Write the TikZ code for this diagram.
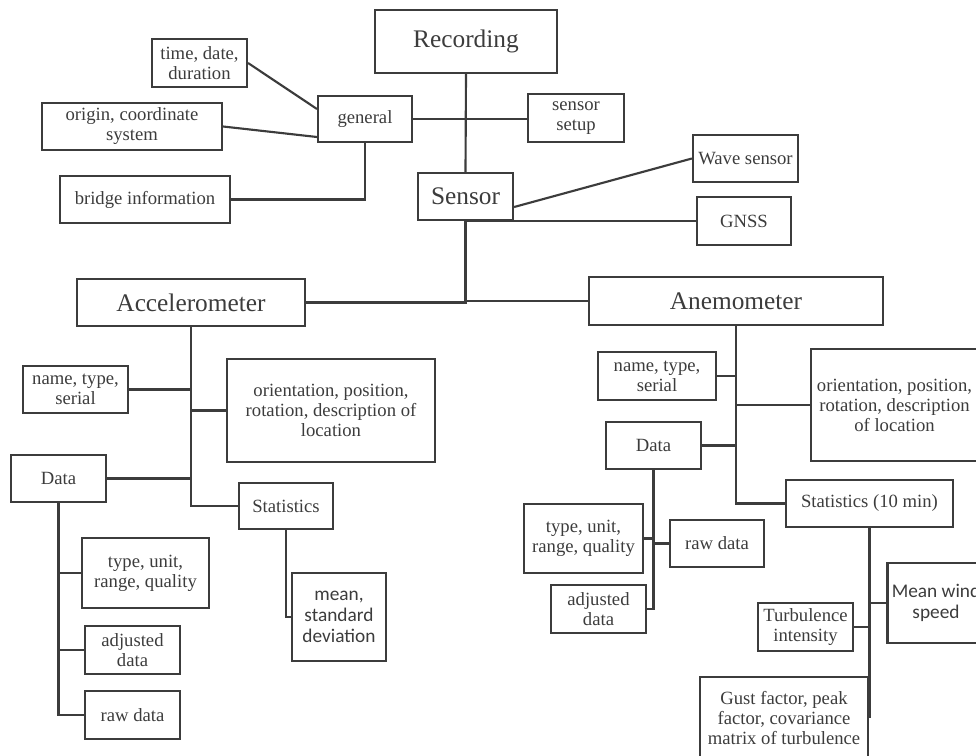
\documentclass[tikz,border=0pt]{standalone}
\usepackage{fontspec}
\setmainfont{Liberation Serif}
\newfontfamily\sansfont{Carlito}

\definecolor{inkgray}{RGB}{60,60,60}

\tikzset{every picture/.style={line width=1.6pt}}
\tikzset{
  bx/.style 2 args={draw=inkgray, line width=1.6pt, text=inkgray, inner sep=0pt, align=center,
    minimum width=#1*0.75pt, minimum height=#2*0.75pt,
    font=\fontsize{14}{15}\selectfont},
  bigbx/.style 2 args={bx={#1}{#2}, font=\fontsize{19}{21}\selectfont},
  sansbx/.style 2 args={bx={#1}{#2}, font=\sansfont\fontsize{14.5}{16}\selectfont},
  link/.style={draw=inkgray, line width=1.6pt}
}

\begin{document}
\begin{tikzpicture}[x=0.75pt,y=0.75pt,yscale=-1,xscale=1]
\useasboundingbox (0,0) rectangle (976,756);
\clip (0,0) rectangle (976,756);

% Text Node
\node [bigbx={182}{63}] (rec) at (466,41.5) {Recording};
% Text Node
\node [bx={94}{46}] (gen) at (365,119) {general};
% Text Node
\node [bx={95}{48}] (time) at (199.5,63) {time, date,\\duration};
% Text Node
\node [bx={180}{47}] (orig) at (132,126.5) {origin, coordinate\\system};
% Text Node
\node [bx={170}{47}] (bridge) at (145,199.5) {bridge information};
% Text Node
\node [bx={96}{48}] (setup) at (576,118) {sensor\\setup};
% Text Node
\node [bigbx={95}{47}] (sen) at (465.5,196.5) {Sensor};
% Text Node
\node [bx={105}{47}] (wave) at (745.5,158.5) {Wave sensor};
% Text Node
\node [bx={94}{48}] (gnss) at (744,221) {GNSS};

% Text Node
\node [bigbx={228}{47}] (acc) at (191,302.5) {Accelerometer};
% Text Node
\node [bigbx={294}{48}] (anem) at (736,301) {Anemometer};

% Text Node
\node [bx={105}{47}] (aname) at (75.5,389.5) {name, type,\\serial};
% Text Node
\node [bx={208}{103}] (aori) at (331,410.5) {orientation, position,\\rotation, description of\\location};
% Text Node
\node [bx={95}{47}] (adata) at (58.5,478.5) {Data};
% Text Node
\node [bx={94}{46}] (astat) at (286,506) {Statistics};
% Text Node
\node [sansbx={94}{88}] (amean) at (339,617) {mean,\\standard\\deviation};
% Text Node
\node [bx={127}{70}] (atype) at (145.5,573) {type, unit,\\range, quality};
% Text Node
\node [bx={95}{48}] (aadj) at (132.5,650) {adjusted\\data};
% Text Node
\node [bx={95}{48}] (araw) at (132.5,715) {raw data};

% Text Node
\node [bx={118}{48}] (bname) at (657,376) {name, type,\\serial};
% Text Node
\node [bx={167}{112}] (bori) at (894.5,405) {orientation, position,\\rotation, description\\of location};
% Text Node
\node [bx={95}{47}] (bdata) at (653.5,445.5) {Data};
% Text Node
\node [bx={167}{47}] (bstat) at (869.5,503.5) {Statistics (10 min)};
% Text Node
\node [bx={119}{69}] (btype) at (583.5,538.5) {type, unit,\\range, quality};
% Text Node
\node [bx={94}{47}] (braw) at (717,543.5) {raw data};
% Text Node
\node [bx={95}{48}] (badj) at (598.5,609) {adjusted\\data};
% Text Node
\node [sansbx={97}{80}] (bmean) at (936,603) {Mean wind\\speed};
% Text Node
\node [bx={95}{48}] (turb) at (805.5,627) {Turbulence\\intensity};
% Text Node
\node [bx={168}{82}] (gust) at (784,718) {Gust factor, peak\\factor, covariance\\matrix of turbulence};

%Straight Lines
\draw [link] (rec.south) -- (sen.north);
\draw [link] (gen.east) -- (gen.east -| setup.west);
\draw [link] ([yshift=-7.5pt]gen.west) -- (time.east);
\draw [link] ([yshift=13.5pt]gen.west) -- (orig.east);
\draw [link] (gen.south) |- (bridge.east);
\draw [link] ([yshift=7.9pt]sen.east) -- (wave.west);
\draw [link] (gnss.west -| sen.south) -- (gnss.west);

%Straight Lines
\draw [link] (acc.east) -| (sen.south);
\draw [link] (sen.south) |- (anem.west);

%Straight Lines
\draw [link] (acc.south) |- (astat.west);
\draw [link] (aname.east) -- (aname.east -| acc.south);
\draw [link] (aori.west) -- (aori.west -| acc.south);
\draw [link] (adata.east) -- (adata.east -| acc.south);
\draw [link] (adata.south) |- (araw.west);
\draw [link] (atype.west) -- (atype.west -| adata.south);
\draw [link] (aadj.west) -- (aadj.west -| adata.south);
\draw [link] (astat.south) |- (amean.west);

%Straight Lines
\draw [link] (anem.south) |- (bstat.west);
\draw [link] (bname.east) -- (bname.east -| anem.south);
\draw [link] (bori.west) -- (bori.west -| anem.south);
\draw [link] (bdata.east) -- (bdata.east -| anem.south);
\draw [link] (bdata.south) |- (badj.east);
\draw [link] (btype.east) -- (btype.east -| bdata.south);
\draw [link] (braw.west) -- (braw.west -| bdata.south);
\draw [link] (bstat.south) -- (bstat.south |- gust.east);
\draw [link] (bmean.west) -- (bmean.west -| bstat.south);
\draw [link] (turb.east) -- (turb.east -| bstat.south);

\end{tikzpicture}
\end{document}
